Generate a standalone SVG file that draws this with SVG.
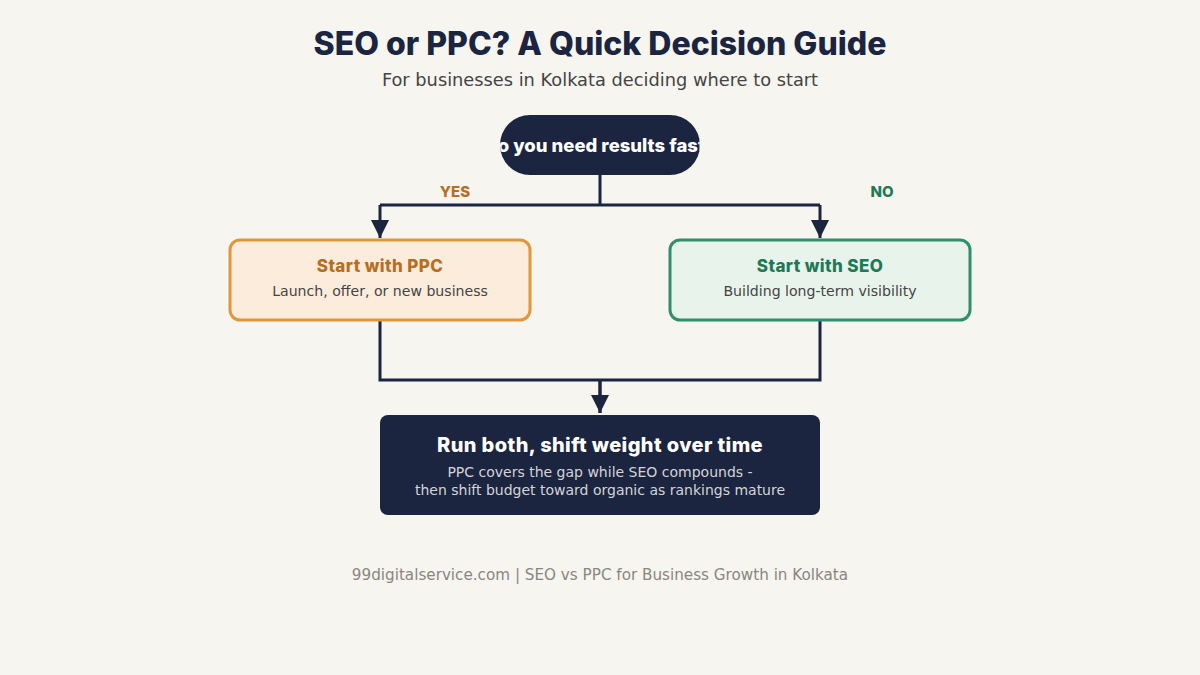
<svg xmlns="http://www.w3.org/2000/svg" width="1200" height="675" viewBox="0 0 1200 675">
<style>
.bg{fill:#f7f5f0}
.head{font-family:Inter,"Liberation Sans",sans-serif;font-weight:800;text-anchor:middle}
.body{font-family:"DejaVu Sans","Noto Sans",sans-serif;text-anchor:middle}
.conn{fill:none;stroke:#1b2540;stroke-width:3}
</style>
<defs>
<marker id="arr" markerWidth="18" markerHeight="18" viewBox="0 0 18 18" refX="18" refY="9" orient="auto" markerUnits="userSpaceOnUse">
<path d="M0,0 L18,9 L0,18 Z" fill="#1b2540"/>
</marker>
<clipPath id="pillclip"><rect x="500" y="115" width="200" height="60" rx="30"/></clipPath>
</defs>
<rect class="bg" x="0" y="0" width="1200" height="675"/>
<g id="title">
<text class="head" x="600" y="55" font-size="32" fill="#1b2540">SEO or PPC? A Quick Decision Guide</text>
<text class="body" x="600" y="86" font-size="17.8" fill="#444">For businesses in Kolkata deciding where to start</text>
</g>
<g id="connectors">
<path class="conn" d="M600,175 V205 M380,205 H820"/>
<path class="conn" d="M380,205 V238" marker-end="url(#arr)"/>
<path class="conn" d="M820,205 V238" marker-end="url(#arr)"/>
<path class="conn" d="M380,320 V380 H820 V320 M600,380 V413"/>
<path class="conn" d="M600,380 V413" marker-end="url(#arr)"/>
<text class="head" x="455" y="197" font-size="15" fill="#b86e1f">YES</text>
<text class="head" x="882" y="197" font-size="15" fill="#1e7a55">NO</text>
</g>
<g id="decision">
<rect x="500" y="115" width="200" height="60" rx="30" fill="#1b2540"/>
<text class="head" x="600" y="152" font-size="18.5" fill="#ffffff" clip-path="url(#pillclip)">Do you need results fast?</text>
</g>
<g id="ppc">
<rect x="230" y="240" width="300" height="80" rx="10" fill="#fcecdc" stroke="#e0963a" stroke-width="3"/>
<text class="head" x="380" y="272" font-size="17" letter-spacing="0.4" fill="#b86e1f">Start with PPC</text>
<text class="body" x="380" y="296" font-size="14.1" fill="#444">Launch, offer, or new business</text>
</g>
<g id="seo">
<rect x="670" y="240" width="300" height="80" rx="10" fill="#e8f3ec" stroke="#2e8f6e" stroke-width="3"/>
<text class="head" x="820" y="272" font-size="17" letter-spacing="0.4" fill="#1e7a55">Start with SEO</text>
<text class="body" x="820" y="296" font-size="14.1" fill="#444">Building long-term visibility</text>
</g>
<g id="both">
<rect x="380" y="415" width="440" height="100" rx="8" fill="#1b2540"/>
<text class="head" x="600" y="452" font-size="20" letter-spacing="0.4" fill="#ffffff">Run both, shift weight over time</text>
<text class="body" x="600" y="477" font-size="14" fill="#d4d4d8">PPC covers the gap while SEO compounds -</text>
<text class="body" x="600" y="495" font-size="14" fill="#d4d4d8">then shift budget toward organic as rankings mature</text>
</g>
<g id="footer">
<text class="body" x="600" y="580" font-size="15.2" fill="#8a8680">99digitalservice.com | SEO vs PPC for Business Growth in Kolkata</text>
</g>
</svg>
